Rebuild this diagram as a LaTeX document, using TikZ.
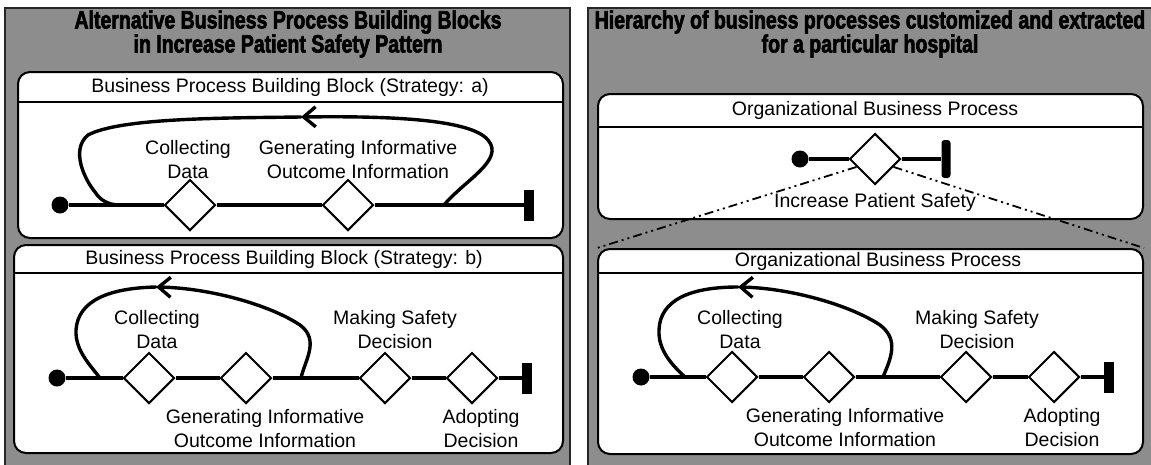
\documentclass[tikz,border=0pt]{standalone}
\usepackage{fontspec}
\setmainfont{Liberation Sans}
\newfontfamily\titlefont[FakeStretch=0.78, BoldFeatures={FakeBold=2.5}]{Liberation Sans}
\usetikzlibrary{shapes.geometric, arrows.meta, positioning, calc}
\definecolor{panelgray}{RGB}{141,141,141}

\tikzset{
  panel/.style={fill=panelgray, draw=black!85, line width=1.2pt},
  procbox/.style={draw, fill=white, line width=2pt, rounded corners=12pt, anchor=north west, inner sep=0pt},
  ptitle/.style={font=\fontsize{19.5}{23}\selectfont},
  plabel/.style={font=\fontsize{19.5}{24}\selectfont, align=center},
  bigtitle/.style={font=\titlefont\bfseries\fontsize{25}{24}\selectfont, align=center},
  act/.style={draw, diamond, fill=white, line width=2pt, minimum width=51pt, minimum height=51pt, inner sep=0pt, aspect=1},
  startdot/.style={circle, fill, minimum size=17pt, inner sep=0pt},
  endbar/.style={rectangle, fill, minimum width=10pt, minimum height=31pt, inner sep=0pt},
  flow/.style={line width=3.4pt},
  loopline/.style={line width=3.4pt, line cap=round},
  barb/.style={-{Straight Barb[length=12pt, width=20pt]}},
  refine/.style={line width=1.8pt, dash pattern=on 9pt off 4pt on 2pt off 4pt on 2pt off 4pt}
}

\begin{document}
\begin{tikzpicture}[x=1pt, y=-1pt]
  \useasboundingbox (0,0) rectangle (1151,464);

  % panels
  \draw[panel] (5,8) rectangle (570,470);
  \draw[panel] (588,8) rectangle (1158,470);
  \node (head1) [bigtitle] at (288,34) {Alternative Business Process Building Blocks\\in Increase Patient Safety Pattern};
  \node (head2) [bigtitle] at (870,34) {Hierarchy of business processes customized and extracted\\for a particular hospital};

  % strategy a
  \node (boxa) [procbox, minimum width=545pt, minimum height=166pt] at (17,71) {};
  \draw[line width=1.5pt] (boxa.west |- 0,102) -- (boxa.east |- 0,102);
  \node (tita) [ptitle] at (290,87) {Business Process Building Block (Strategy: a)};
  \node (sa) [startdot] at (60,205) {};
  \node (da1) [act] at (190,205) {};
  \node (da2) [act] at (348,205) {};
  \node (ea) [endbar] at (529,205) {};
  \draw[flow] (sa) -- (da1) -- (da2) -- (ea);
  \node (la1) [plabel] at (188,160) {Collecting\\Data};
  \node (la2) [plabel] at (358,160) {Generating Informative\\Outcome Information};
  \coordinate (fa1) at (120,205);
  \coordinate (fa2) at (444,205);
  \coordinate (tipa) at (301,117);
  \draw[loopline, barb] (fa2) .. controls (465,180) and (505,160) .. (488,140) .. controls (470,118) and (380,116) .. (tipa);
  \draw[loopline] (tipa) .. controls (220,118) and (120,118) .. (88,135) .. controls (70,150) and (85,180) .. (95,192) .. controls (100,200) and (108,205) .. (fa1);

  % strategy b
  \node (boxb) [procbox, minimum width=549pt, minimum height=208pt] at (13,244) {};
  \draw[line width=1.5pt] (boxb.west |- 0,273) -- (boxb.east |- 0,273);
  \node (titb) [ptitle] at (284,259) {Business Process Building Block (Strategy: b)};
  \node (sb) [startdot] at (57,378) {};
  \node (db1) [act] at (149,378) {};
  \node (db2) [act] at (246,378) {};
  \node (db3) [act] at (385,378) {};
  \node (db4) [act] at (472,378) {};
  \node (eb) [endbar] at (527,378) {};
  \draw[flow] (sb) -- (db1) -- (db2) -- (db3) -- (db4) -- (eb);
  \node (lb1) [plabel] at (157,330) {Collecting\\Data};
  \node (lb3) [plabel] at (395,330) {Making Safety\\Decision};
  \node (lb2) [plabel] at (265,429) {Generating Informative\\Outcome Information};
  \node (lb4) [plabel] at (481,429) {Adopting\\Decision};
  \coordinate (fb1) at (100,378);
  \coordinate (fb2) at (301,378);
  \coordinate (tipb) at (156,287);
  \draw[loopline, barb] (fb2) .. controls (305,360) and (320,340) .. (300,325) .. controls (270,305) and (210,288) .. (tipb);
  \draw[loopline] (tipb) .. controls (110,288) and (78,300) .. (76,330) .. controls (75,350) and (90,365) .. (fb1);

  % hospital process
  \node (boxc) [procbox, minimum width=545pt, minimum height=125pt] at (597,93) {};
  \draw[line width=1.5pt] (boxc.west |- 0,127) -- (boxc.east |- 0,127);
  \node (titc) [ptitle] at (875,110) {Organizational Business Process};
  \node (sc) [startdot] at (800,159) {};
  \node (dc) [act] at (875,159) {};
  \node (ec) [endbar, minimum width=9pt, minimum height=38pt, rounded corners=3pt] at (946,159) {};
  \draw[flow] (sc) -- (dc) -- (ec);
  \node (lc) [plabel] at (875,202) {Increase Patient Safety};

  % refined process
  \node (boxd) [procbox, minimum width=545pt, minimum height=205pt] at (597,248) {};
  \draw[line width=1.5pt] (boxd.west |- 0,273) -- (boxd.east |- 0,273);
  \node (titd) [ptitle] at (878,261) {Organizational Business Process};
  \node (sd) [startdot] at (641,377) {};
  \node (dd1) [act] at (732,377) {};
  \node (dd2) [act] at (829,377) {};
  \node (dd3) [act] at (966,377) {};
  \node (dd4) [act] at (1054,377) {};
  \node (ed) [endbar] at (1109,377) {};
  \draw[flow] (sd) -- (dd1) -- (dd2) -- (dd3) -- (dd4) -- (ed);
  \node (ld1) [plabel] at (740,330) {Collecting\\Data};
  \node (ld3) [plabel] at (977,330) {Making Safety\\Decision};
  \node (ld2) [plabel] at (845,428) {Generating Informative\\Outcome Information};
  \node (ld4) [plabel] at (1062,428) {Adopting\\Decision};
  \coordinate (fd1) at (685,377);
  \coordinate (fd2) at (883,377);
  \coordinate (tipd) at (738,287);
  \draw[loopline, barb] (fd2) .. controls (890,360) and (900,340) .. (880,325) .. controls (850,305) and (790,288) .. (tipd);
  \draw[loopline] (tipd) .. controls (690,287) and (660,300) .. (659,330) .. controls (658,350) and (672,365) .. (fd1);

  % refinement lines
  \draw[refine] ($(dc.west)!0.3!(dc.south)$) -- (boxd.north west);
  \draw[refine] ($(dc.east)!0.3!(dc.south)$) -- (boxd.north east);
\end{tikzpicture}
\end{document}
